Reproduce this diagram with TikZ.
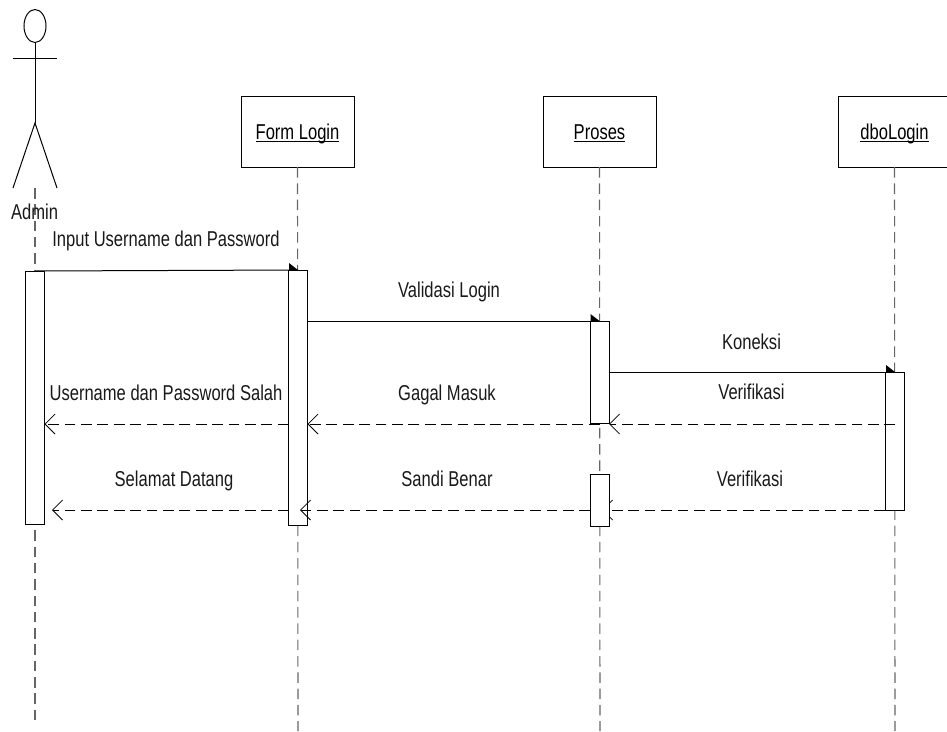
\documentclass[tikz,border=0pt]{standalone}
\usepackage{fontspec}
\setmainfont[FakeStretch=0.77]{Liberation Sans}
\usetikzlibrary{arrows.meta,shapes.geometric}
\newcommand\objtext[1]{\setbox0\hbox{#1}\rlap{\rule[-2.4pt]{\wd0}{1.2pt}}\box0}
\tikzset{
  lab/.style={font=\fontsize{21.5}{23}\selectfont,inner sep=0pt,text=black!90,anchor=base},
  objbox/.style={draw,fill=white,minimum width=113pt,minimum height=71pt,inner sep=0pt,outer sep=0pt,font=\fontsize{21.5}{23}\selectfont,text height=21pt,text depth=5.4pt},
  act/.style={draw,fill=white,minimum width=19pt,inner sep=0pt,outer sep=0pt},
  life/.style={dash pattern=on 10.5pt off 5.8pt,line width=1.1pt,black!60},
  msg/.style={line width=1pt},
  ret/.style={line width=1pt,dash pattern=on 10.7pt off 5.7pt,-{Straight Barb[length=10pt,width=20pt,line width=.8pt]}},
}
\begin{document}
\begin{tikzpicture}[x=1pt,y=-1pt,line width=1pt]
\useasboundingbox (0,0) rectangle (947,731);
\clip (0,0) rectangle (947,731);
% actor
\node[draw,ellipse,minimum width=22pt,minimum height=33pt,inner sep=0pt,outer sep=0pt] (head) at (35,26) {};
\coordinate (neck) at (35,58.5);
\coordinate (armL) at (13,58.5);
\coordinate (armR) at (57,58.5);
\coordinate (hip) at (35,123);
\coordinate (legL) at (13,188);
\coordinate (legR) at (57,188);
\draw (head.south) -- (hip);
\draw (armL) -- (armR);
\draw (legL) -- (hip) -- (legR);
\coordinate (adminTop) at (35,188);
\coordinate (adminEnd) at (35,722);
\coordinate (formEnd) at (298,731);
\coordinate (procEnd) at (600,731);
\coordinate (dboEnd) at (895,731);
% objects
\node[objbox] (form) at (297.5,131.5) {\objtext{Form Login}};
\node[objbox] (proc) at (599.5,131.5) {\objtext{Proses}};
\node[objbox] (dbo) at (894.5,131.5) {\objtext{dboLogin}};
% lifelines
\draw[life] (adminTop) -- (adminEnd);
\draw[life] (form.south) -- (formEnd);
\draw[life] (proc.south) -- (procEnd);
\draw[life] (dbo.south) -- (dboEnd);
% message levels
\coordinate (y1) at (0,424);
\coordinate (y2) at (0,510);
% return hidden behind the second process bar
\coordinate (tipB) at (602,510);
\coordinate (dboSrc) at (885,510);
\draw[ret] (dboSrc) -- (tipB);
% activations
\node[act,minimum height=253pt] (aA) at (35,397.5) {};
\node[act,minimum height=255pt] (aF) at (298,397.5) {};
\node[act,minimum height=102pt] (aP) at (599.5,372) {};
\node[act,minimum height=52pt] (aQ) at (599.5,500) {};
\node[act,minimum height=138pt] (aD) at (895,441) {};
% calls
\draw[msg] (aA.north) -- (aF.north);
\fill (aF.north) -- ++(-9,-7) -- ++(0,7) -- cycle;
\coordinate (s2) at (aF.east |- aP.north);
\draw[msg] (s2) -- (aP.north);
\fill (aP.north) -- ++(-9,-7) -- ++(0,7) -- cycle;
\coordinate (s3) at (aP.east |- aD.north);
\draw[msg] (s3) -- (aD.north);
\fill (aD.north) -- ++(-9,-7) -- ++(0,7) -- cycle;
% returns
\draw[ret] (aD.center |- y1) -- (aP.east |- y1);
\draw[ret] (aP.center |- y1) -- (aF.east |- y1);
\draw[ret] (aF.west |- y1) -- (aA.east |- y1);
\coordinate (tipF) at (300,510);
\coordinate (tipA) at (52,510);
\draw[ret] (aQ.west |- y2) -- (tipF);
\draw[ret] (aF.west |- y2) -- (tipA);
% labels
\node[lab] (tAdmin) at (34.5,219) {Admin};
\node[lab] (t1) at (166,246.7) {Input Username dan Password};
\node[lab] (t2) at (449,297) {Validasi Login};
\node[lab] (t3) at (751.5,349) {Koneksi};
\node[lab] (t4) at (751.5,399.3) {Verifikasi};
\node[lab] (t5) at (447,400) {Gagal Masuk};
\node[lab] (t6) at (166,400.7) {Username dan Password Salah};
\node[lab] (t7) at (174,486.7) {Selamat Datang};
\node[lab] (t8) at (447,486.7) {Sandi Benar};
\node[lab] (t9) at (750,486.7) {Verifikasi};
\end{tikzpicture}
\end{document}
